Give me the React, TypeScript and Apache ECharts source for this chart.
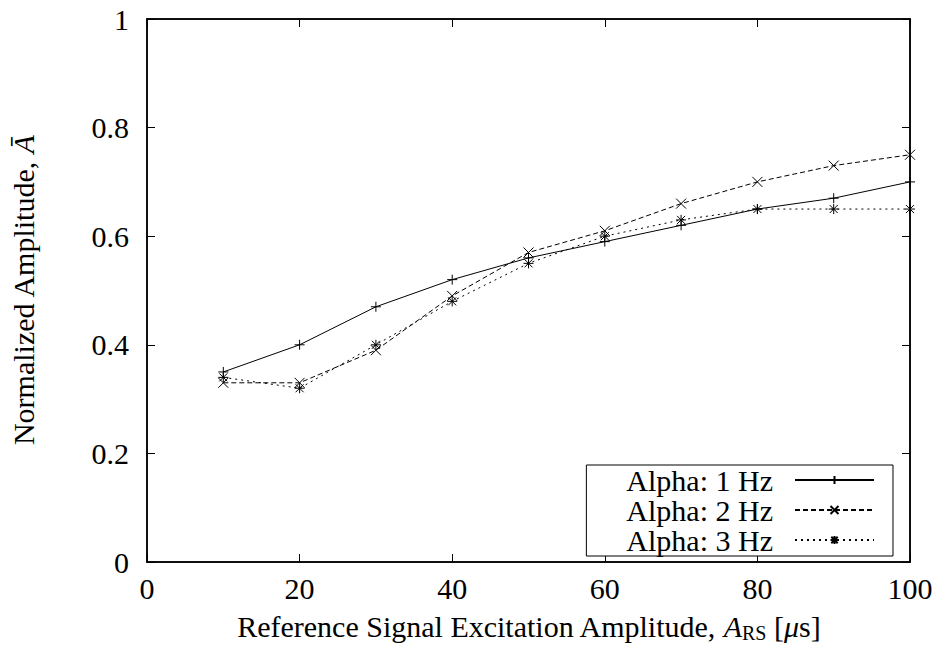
import React, { useEffect, useRef } from "react";
import * as echarts from "echarts";

const xValues = [10, 20, 30, 40, 50, 60, 70, 80, 90, 100];
const alpha1 = [0.35, 0.40, 0.47, 0.52, 0.56, 0.59, 0.62, 0.65, 0.67, 0.70];
const alpha2 = [0.33, 0.33, 0.39, 0.49, 0.57, 0.61, 0.66, 0.70, 0.73, 0.75];
const alpha3 = [0.34, 0.32, 0.40, 0.48, 0.55, 0.60, 0.63, 0.65, 0.65, 0.65];
const seriesNames = ["Alpha: 1 Hz", "Alpha: 2 Hz", "Alpha: 3 Hz"];

const FONT = "'Liberation Serif', 'DejaVu Serif', serif";
const FS = 30;

const PLUS = "path://M10,0L10,20M0,10L20,10";
const CROSS = "path://M0,0L20,20M0,20L20,0";
const STAR = "path://M10,0L10,20M0,10L20,10M2,2L18,18M2,18L18,2";

function pairs(ys: number[]) {
  return xValues.map((x, i) => [x, ys[i]]);
}

export default function App() {
  const ref = useRef<HTMLDivElement>(null);
  useEffect(() => {
    if (!ref.current) return;
    const chart = echarts.init(ref.current, null, { renderer: "svg" });
    const axisLine = () => ({ show: true, onZero: false, lineStyle: { color: "#000", width: 1.5 } });
    const tick = () => ({ show: true, inside: true, length: 8, lineStyle: { color: "#000", width: 1 } });
    const labelStyle = { color: "#000", fontFamily: FONT, fontSize: FS };
    const mkSeries = (name: string, ys: number[], symbol: string, type: any) => ({
      name,
      type: "line",
      xAxisIndex: 0,
      yAxisIndex: 0,
      data: pairs(ys),
      symbol,
      symbolSize: 10,
      showSymbol: true,
      lineStyle: { color: "#000", width: 1, type },
      itemStyle: { color: "#000", borderColor: "#000", borderWidth: 1 },
    });
    chart.setOption({
      animation: false,
      backgroundColor: "#fff",
      textStyle: { fontFamily: FONT, color: "#000" },
      grid: { left: 147, right: 30, top: 19, bottom: 92, show: true, borderColor: "#000", borderWidth: 1.5 },
      xAxis: [
        {
          type: "value",
          min: 0,
          max: 100,
          interval: 20,
          position: "bottom",
          axisLine: axisLine(),
          axisTick: tick(),
          splitLine: { show: false },
          axisLabel: { ...labelStyle, margin: 11 },
          name: "Reference Signal Excitation Amplitude, {i|A}{sub|RS} [{i|μ}s]",
          nameLocation: "middle",
          nameGap: 47,
          nameTextStyle: {
            ...labelStyle,
            rich: {
              i: { fontFamily: FONT, fontSize: FS, fontStyle: "italic", color: "#000" },
              sub: { fontFamily: FONT, fontSize: 20, color: "#000", padding: [14, 0, 0, 0] },
            },
          },
        },
        {
          type: "value",
          min: 0,
          max: 100,
          interval: 20,
          position: "top",
          axisLine: axisLine(),
          axisTick: tick(),
          splitLine: { show: false },
          axisLabel: { show: false },
        },
      ],
      yAxis: [
        {
          type: "value",
          min: 0,
          max: 1,
          interval: 0.2,
          position: "left",
          axisLine: axisLine(),
          axisTick: tick(),
          splitLine: { show: false },
          axisLabel: { ...labelStyle, margin: 18 },
          name: "Normalized Amplitude, {i|Ā}",
          nameLocation: "middle",
          nameGap: 109,
          nameTextStyle: {
            ...labelStyle,
            rich: {
              i: { fontFamily: FONT, fontSize: FS, fontStyle: "italic", color: "#000" },
            },
          },
        },
        {
          type: "value",
          min: 0,
          max: 1,
          interval: 0.2,
          position: "right",
          axisLine: axisLine(),
          axisTick: tick(),
          splitLine: { show: false },
          axisLabel: { show: false },
        },
      ],
      legend: {
        data: seriesNames,
        orient: "vertical",
        align: "right",
        right: 47,
        top: 465,
        itemWidth: 79,
        itemHeight: 10,
        itemGap: 0,
        padding: [0, 18, 1, 40],
        borderColor: "#000",
        borderWidth: 1,
        backgroundColor: "#fff",
        textStyle: {
          fontFamily: FONT,
          fontSize: FS,
          color: "#000",
          lineHeight: 29.5,
          padding: [0, 17, 0, 0],
        },
      },
      series: [
        mkSeries(seriesNames[0], alpha1, PLUS, "solid"),
        mkSeries(seriesNames[1], alpha2, CROSS, [5, 3]),
        mkSeries(seriesNames[2], alpha3, STAR, [2, 4]),
      ],
    });
    return () => chart.dispose();
  }, []);
  return <div ref={ref} style={{ width: 940, height: 654, position: "absolute", left: 0, top: 0 }} />;
}
